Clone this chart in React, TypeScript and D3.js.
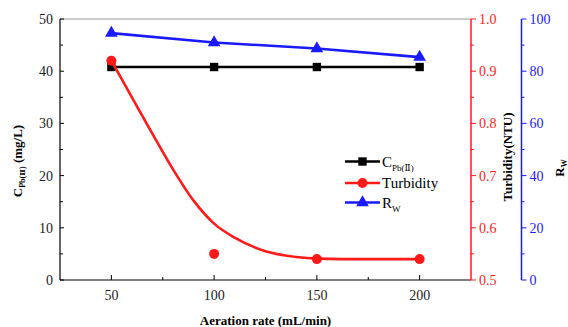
import React from 'react';
import * as d3 from 'd3';

// data
const rates = [50, 100, 150, 200];
const cPb = [40.8, 40.8, 40.8, 40.8];
const turbidity = [0.92, 0.55, 0.54, 0.54];
const rw = [94.6, 91.0, 88.7, 85.4];

// fitted turbidity curve
const fitRates = [50, 60, 70, 80, 90, 100, 110, 125, 140, 150, 175, 200];
const fitTurb = [0.92, 0.85, 0.78, 0.712, 0.652, 0.608, 0.581, 0.555, 0.544, 0.541, 0.54, 0.54];

const xTicks = [50, 100, 150, 200];
const xMinor = [75, 125, 175];

const W = 568;
const H = 327;
const left = 60, right = 471, top = 19, bottom = 280;
const blueAxisX = 521.5;

const font = "'Times New Roman', 'Liberation Serif', 'DejaVu Serif', serif";
const RED = '#ff1a1a';
const BLUE = '#1a1aff';

const App = () => {
  const x = d3.scaleLinear().domain([25, 225]).range([left, right]);
  const yL = d3.scaleLinear().domain([0, 50]).range([bottom, top]);
  const yR = d3.scaleLinear().domain([0.5, 1.0]).range([bottom, top]);
  const yB = d3.scaleLinear().domain([0, 100]).range([bottom, top]);

  const blackLine = d3.line<number>().x((d, i) => x(rates[i])).y(d => yL(d));
  const blueLine = d3.line<number>().x((d, i) => x(rates[i])).y(d => yB(d));
  const fitLine = d3.line<number>()
    .x((d, i) => x(fitRates[i]))
    .y(d => yR(d))
    .curve(d3.curveMonotoneX);

  const square = d3.symbol().type(d3.symbolSquare).size(70)();
  const tri = d3.symbol().type(d3.symbolTriangle).size(70)();

  const leftMajor = d3.range(0, 51, 10);
  const leftMinor = d3.range(5, 50, 10);
  const redMajor = [0.5, 0.6, 0.7, 0.8, 0.9, 1.0];
  const redMinor = [0.55, 0.65, 0.75, 0.85, 0.95];
  const blueMajor = d3.range(0, 101, 20);
  const blueMinor = d3.range(10, 100, 20);

  const legend = [
    { color: 'black', kind: 'square', label: 'C', sub: 'Pb(Ⅱ)', y: 161.5 },
    { color: RED, kind: 'circle', label: 'Turbidity', sub: '', y: 183 },
    { color: BLUE, kind: 'tri', label: 'R', sub: 'W', y: 202.5 },
  ];

  return (
    <div style={{ position: 'absolute', left: 0, top: 0 }}>
      <svg width={W} height={H} style={{ display: 'block', background: 'white', fontFamily: font }}>
        {/* frame */}
        <line x1={left} x2={right} y1={top} y2={top} stroke="#999" strokeWidth={1.2} />
        <line x1={left} x2={left} y1={top} y2={bottom} stroke="black" strokeWidth={1.2} />
        <line x1={left} x2={right} y1={bottom} y2={bottom} stroke="black" strokeWidth={1.2} />

        {/* left axis */}
        {leftMajor.map(v => (
          <g key={'lm' + v}>
            <line x1={left} x2={left + 4} y1={yL(v)} y2={yL(v)} stroke="black" />
            <text x={left - 7} y={yL(v)} dy="0.35em" textAnchor="end" fontSize={14} fill="#222">{v}</text>
          </g>
        ))}
        {leftMinor.map(v => (
          <line key={'ln' + v} x1={left} x2={left + 3} y1={yL(v)} y2={yL(v)} stroke="black" />
        ))}

        {/* bottom axis */}
        {xTicks.map(v => (
          <g key={'xt' + v}>
            <line x1={x(v)} x2={x(v)} y1={bottom} y2={bottom - 5} stroke="black" />
            <text x={x(v)} y={bottom + 15} dy="0.35em" textAnchor="middle" fontSize={14} fill="#222">{v}</text>
          </g>
        ))}
        {xMinor.map(v => (
          <line key={'xm' + v} x1={x(v)} x2={x(v)} y1={bottom} y2={bottom - 3} stroke="black" />
        ))}

        {/* red axis */}
        <line x1={right} x2={right} y1={top} y2={bottom} stroke={RED} strokeWidth={1.5} />
        {redMajor.map(v => (
          <g key={'rm' + v}>
            <line x1={right} x2={right + 5} y1={yR(v)} y2={yR(v)} stroke={RED} />
            <text x={right + 8} y={yR(v)} dy="0.35em" fontSize={14} fill={RED}>{v.toFixed(1)}</text>
          </g>
        ))}
        {redMinor.map(v => (
          <line key={'rn' + v} x1={right} x2={right + 3} y1={yR(v)} y2={yR(v)} stroke={RED} />
        ))}

        {/* blue axis */}
        <line x1={blueAxisX} x2={blueAxisX} y1={top} y2={bottom} stroke={BLUE} strokeWidth={1.5} />
        {blueMajor.map(v => (
          <g key={'bm' + v}>
            <line x1={blueAxisX} x2={blueAxisX + 5} y1={yB(v)} y2={yB(v)} stroke={BLUE} />
            <text x={blueAxisX + 8} y={yB(v)} dy="0.35em" fontSize={14} fill={BLUE}>{v}</text>
          </g>
        ))}
        {blueMinor.map(v => (
          <line key={'bn' + v} x1={blueAxisX} x2={blueAxisX + 3} y1={yB(v)} y2={yB(v)} stroke={BLUE} />
        ))}

        {/* series */}
        <path d={blackLine(cPb) || ''} fill="none" stroke="black" strokeWidth={2.6} />
        {cPb.map((v, i) => (
          <path key={'sq' + i} d={square || ''} transform={`translate(${x(rates[i])},${yL(v)})`} fill="black" />
        ))}

        <path d={blueLine(rw) || ''} fill="none" stroke={BLUE} strokeWidth={2.6} />
        {rw.map((v, i) => (
          <path key={'tr' + i} d={tri || ''} transform={`translate(${x(rates[i])},${yB(v)})`} fill={BLUE} />
        ))}

        <path d={fitLine(fitTurb) || ''} fill="none" stroke={RED} strokeWidth={2.6} />
        {turbidity.map((v, i) => (
          <circle key={'ci' + i} cx={x(rates[i])} cy={yR(v)} r={5} fill={RED} />
        ))}

        {/* legend */}
        {legend.map(l => (
          <g key={l.label} transform={`translate(345,${l.y})`}>
            <line x1={0} x2={35} y1={0} y2={0} stroke={l.color} strokeWidth={2.6} />
            {l.kind === 'square' && <path d={square || ''} transform="translate(17.5,0)" fill={l.color} />}
            {l.kind === 'circle' && <circle cx={17.5} cy={0} r={5} fill={l.color} />}
            {l.kind === 'tri' && <path d={tri || ''} transform="translate(17.5,0)" fill={l.color} />}
            <text x={37} y={5} fontSize={15} fill="black">
              {l.label}
              {l.sub && <tspan fontSize={9} dy={4}>{l.sub}</tspan>}
            </text>
          </g>
        ))}

        {/* axis titles */}
        <text x={265.5} y={320} dy="0.35em" textAnchor="middle" fontSize={13} fontWeight="bold" fill="black">
          Aeration rate (mL/min)
        </text>
        <text transform="translate(22,161) rotate(-90)" textAnchor="middle" fontSize={13} fontWeight="bold" fill="black">
          C<tspan fontSize={8} dy={3}>Pb(Ⅱ)</tspan><tspan dy={-3}> (mg/L)</tspan>
        </text>
        <text transform="translate(512,157) rotate(-90)" textAnchor="middle" fontSize={13} fontWeight="bold" fill="black">
          Turbidity(NTU)
        </text>
        <text transform="translate(564,168) rotate(-90)" textAnchor="middle" fontSize={13} fontWeight="bold" fill="black">
          R<tspan fontSize={8} dy={3}>W</tspan>
        </text>
      </svg>
    </div>
  );
};

export default App;
